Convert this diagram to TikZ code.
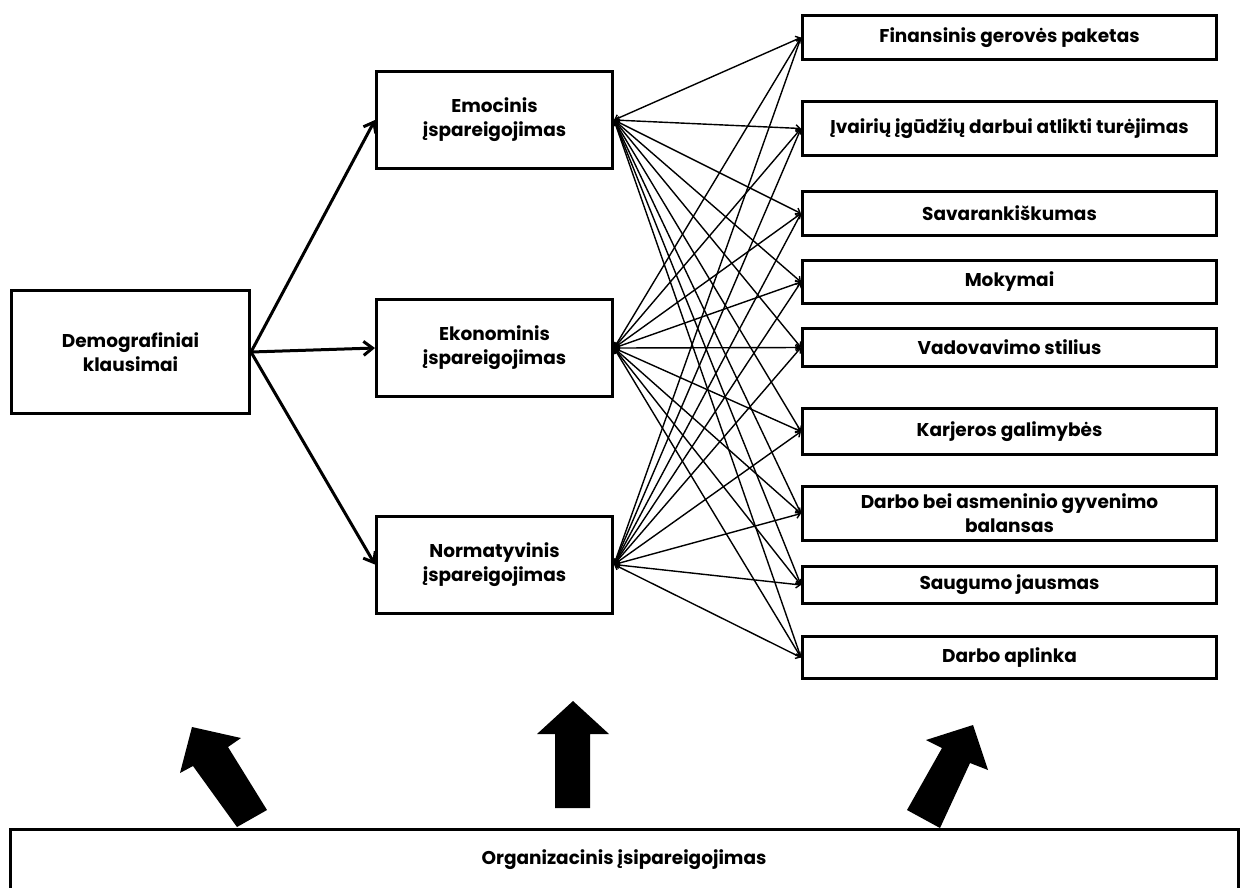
\documentclass[tikz,border=0pt]{standalone}
\usepackage{fontspec}
\setmainfont{Poppins}
\usetikzlibrary{arrows.meta}

\begin{document}
\begin{tikzpicture}[x=1pt, y=-1pt,
    box/.style={draw, line width=3pt, align=center, inner sep=2pt,
      font=\fontsize{18.5}{24}\selectfont\bfseries},
    midbox/.style={box, minimum width=236pt, minimum height=97pt},
    factor/.style={box, minimum width=414pt},
    mainarrow/.style={line width=3pt, -{Straight Barb[length=9pt, width=14pt, line width=3pt]}},
    link/.style={line width=1.4pt, {Straight Barb[length=4pt, width=7pt]}-{Straight Barb[length=4pt, width=7pt]}},
    blockarrow/.style={fill=black}]
    \useasboundingbox (0,0) rectangle (1246,887);

    % left and middle column
    \node[box, minimum width=238pt, minimum height=123pt] (dem) at (130.5,352) {Demografiniai\\klausimai};
    \node[midbox] (emo) at (494.5,120) {Emocinis\\įspareigojimas};
    \node[midbox] (eko) at (494.5,348) {Ekonominis\\įspareigojimas};
    \node[midbox] (nor) at (494.5,564.5) {Normatyvinis\\įspareigojimas};

    % right column
    \node[factor, minimum height=44pt] (fin) at (1009.5,37.5) {Finansinis gerovės paketas};
    \node[factor, minimum height=54pt] (ivr) at (1009.5,128.5) {Įvairių įgūdžių darbui atlikti turėjimas};
    \node[factor, minimum height=44pt] (sav) at (1009.5,213.5) {Savarankiškumas};
    \node[factor, minimum height=43pt] (mok) at (1009.5,282) {Mokymai};
    \node[factor, minimum height=38pt] (vad) at (1009.5,347.5) {Vadovavimo stilius};
    \node[factor, minimum height=46pt] (kar) at (1009.5,431.5) {Karjeros galimybės};
    \node[factor, minimum height=54pt] (bal) at (1009.5,513.5) {Darbo bei asmeninio gyvenimo\\balansas};
    \node[factor, minimum height=37pt] (sau) at (1009.5,585) {Saugumo jausmas};
    \node[factor, minimum height=42pt] (apl) at (1009.5,657.5) {Darbo aplinka};

    % bottom
    \draw[line width=3pt] (10,905) -- (10,829) -- (1238,829) -- (1238,905);
    \node[font=\fontsize{18.5}{24}\selectfont\bfseries] (org) at (624,860) {Organizacinis įsipareigojimas};

    \foreach \m in {emo, eko, nor}
      \draw[mainarrow] (dem.east) -- (\m.west);

    \foreach \m in {emo, eko, nor}
      \foreach \f in {fin, ivr, sav, mok, vad, kar, bal, sau, apl}
        \draw[link] (\m.east) -- (\f.west);

    % block arrows
    \fill[blockarrow] (237,827) -- (193,766) -- (180,773) -- (192,727) -- (241,738) -- (228,747) -- (267,810) -- cycle;
    \fill[blockarrow] (555,808) -- (555,734) -- (537,734) -- (573,701) -- (609,734) -- (590,734) -- (590,808) -- cycle;
    \fill[blockarrow] (907,810) -- (942,748) -- (926,740) -- (973,725) -- (988,770) -- (970,763) -- (940,828) -- cycle;
  \end{tikzpicture}
\end{document}
